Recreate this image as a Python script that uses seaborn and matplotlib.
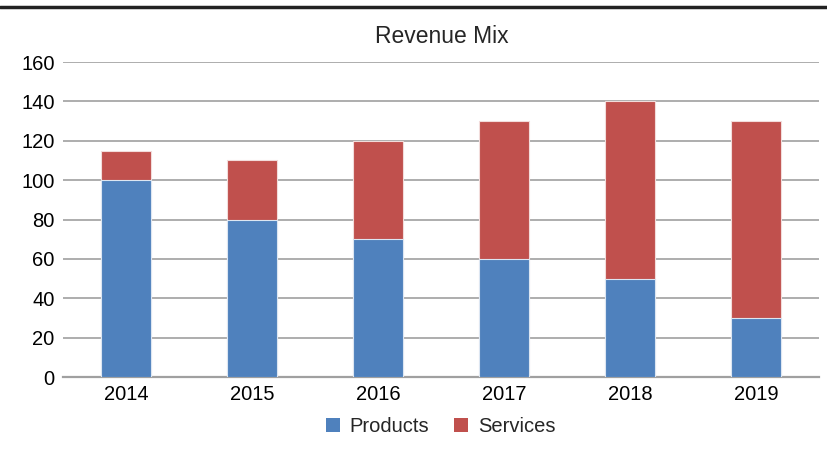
import matplotlib
matplotlib.use("Agg")
import matplotlib.pyplot as plt
from matplotlib.lines import Line2D
from matplotlib.patches import Patch
import seaborn as sns
import pandas as pd

# Revenue split by year
years = ["2014", "2015", "2016", "2017", "2018", "2019"]
products = [100, 80, 70, 60, 50, 30]
services = [15, 30, 50, 70, 90, 100]
series_names = ["Products", "Services"]
y_ticks = [0, 20, 40, 60, 80, 100, 120, 140, 160]

blue = "#4F81BD"
red = "#C0504D"

sns.set_theme(style="white")
plt.rcParams["font.family"] = ["Liberation Sans", "DejaVu Sans"]

df = pd.DataFrame({"year": years, "products": products, "services": services})
df["total"] = df["products"] + df["services"]

fig = plt.figure(figsize=(8.28, 4.5), dpi=100)
ax = fig.add_axes([0.076, 0.1622, 0.913, 0.7])

# Stacked bars: full height in red, products layered on top in blue
sns.barplot(data=df, x="year", y="total", color=red, width=0.4, saturation=1,
            edgecolor="#f2dcdb", linewidth=0.8, ax=ax, zorder=3)
sns.barplot(data=df, x="year", y="products", color=blue, width=0.4, saturation=1,
            edgecolor="#dce6f2", linewidth=0.8, ax=ax, zorder=4)

ax.set_ylim(0, 160)
ax.set_xlim(-0.5, len(years) - 0.5)
ax.set_yticks(y_ticks)
ax.set_xlabel("")
ax.set_ylabel("")
for s in ["left", "right", "top"]:
    ax.spines[s].set_visible(False)
ax.spines["bottom"].set_color("#a0a0a0")
ax.spines["bottom"].set_linewidth(1.6)
ax.grid(axis="y", color="#a0a0a0", linewidth=1.2, zorder=0)
ax.set_axisbelow(True)
ax.tick_params(axis="y", length=0, pad=6, labelsize=14.5, colors="black")
ax.tick_params(axis="x", length=0, pad=6, labelsize=14.5, colors="black")

fig.text(0.534, 0.918, "Revenue Mix", ha="center", va="center", fontsize=16.5)

handles = [Patch(facecolor=blue, edgecolor="none"), Patch(facecolor=red, edgecolor="none")]
fig.legend(handles, series_names, loc="center", bbox_to_anchor=(0.532, 0.053),
           ncol=2, frameon=False, fontsize=14.5, handlelength=0.7, handleheight=0.7,
           handletextpad=0.5, columnspacing=1.2)

# Heavy rule along the top edge
fig.add_artist(Line2D([0, 1], [0.985, 0.985], transform=fig.transFigure,
                      color="#222222", linewidth=2.5))

fig.savefig("out.png", dpi=100)
